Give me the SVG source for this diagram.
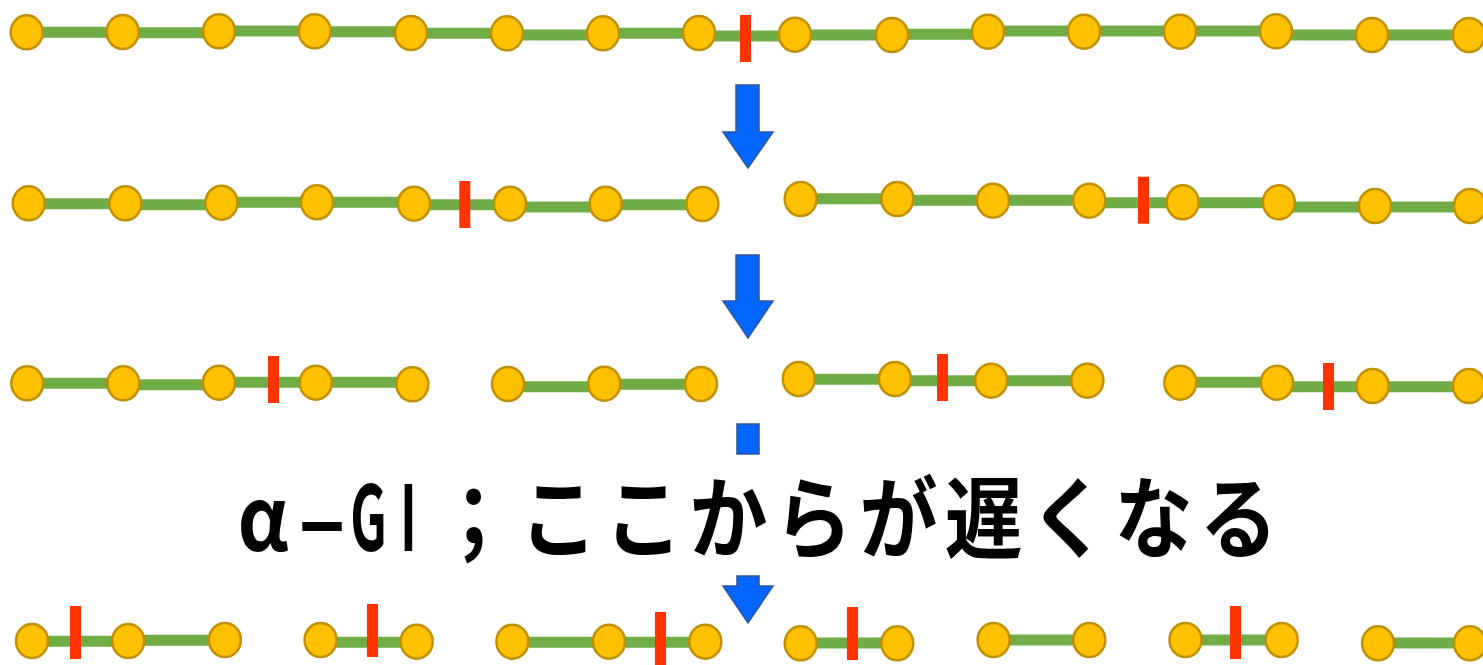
<svg xmlns="http://www.w3.org/2000/svg" width="1483" height="665" viewBox="0 0 1483 665">
<style>
.n{fill:#FFC000;stroke:#BF9000;stroke-width:2.5}
.e{stroke:#70AD47;stroke-width:11;fill:none}
.cut{fill:#FF3300}
.arr{fill:#0066FF;stroke:#2F5597;stroke-width:1.5;stroke-linejoin:miter}
.t{font-family:"Noto Sans CJK JP","Noto Sans",sans-serif;font-size:85px;font-weight:700;fill:#000;text-anchor:middle}
</style>
<rect width="1483" height="665" fill="#FFFFFF"/>
<g id="connectors">
<line class="e" x1="26.7" y1="32.3" x2="122.7" y2="32.3"/>
<line class="e" x1="122.7" y1="32.7" x2="219" y2="32.7"/>
<line class="e" x1="219" y1="31" x2="314.7" y2="31"/>
<line class="e" x1="314.7" y1="31.7" x2="411" y2="31.7"/>
<line class="e" x1="411" y1="33.3" x2="507" y2="33.3"/>
<line class="e" x1="507" y1="35" x2="603" y2="35"/>
<line class="e" x1="603" y1="33.3" x2="699" y2="33.3"/>
<line class="e" x1="699" y1="36" x2="795" y2="36"/>
<line class="e" x1="795" y1="35" x2="892" y2="35"/>
<line class="e" x1="892" y1="34.3" x2="988" y2="34.3"/>
<line class="e" x1="988" y1="31" x2="1084" y2="31"/>
<line class="e" x1="1084" y1="31" x2="1180" y2="31"/>
<line class="e" x1="1180" y1="31" x2="1276" y2="31"/>
<line class="e" x1="1276" y1="35" x2="1372" y2="35"/>
<line class="e" x1="1372" y1="35" x2="1469" y2="35"/>
<line class="e" x1="28.7" y1="203.7" x2="125.4" y2="203.7"/>
<line class="e" x1="125.4" y1="204.7" x2="221.5" y2="204.7"/>
<line class="e" x1="221.5" y1="202.3" x2="317" y2="202.3"/>
<line class="e" x1="317" y1="202.3" x2="414" y2="202.3"/>
<line class="e" x1="414" y1="204.7" x2="510" y2="204.7"/>
<line class="e" x1="510" y1="207" x2="605.7" y2="207"/>
<line class="e" x1="605.7" y1="204.7" x2="702.4" y2="204.7"/>
<line class="e" x1="800.7" y1="198.7" x2="897.3" y2="198.7"/>
<line class="e" x1="897.3" y1="200.3" x2="993" y2="200.3"/>
<line class="e" x1="993" y1="200.3" x2="1089.3" y2="200.3"/>
<line class="e" x1="1089.3" y1="202.7" x2="1182.7" y2="202.7"/>
<line class="e" x1="1182.7" y1="202.7" x2="1278.9" y2="202.7"/>
<line class="e" x1="1278.9" y1="207" x2="1375" y2="207"/>
<line class="e" x1="1375" y1="207" x2="1470" y2="207"/>
<line class="e" x1="27.3" y1="383.3" x2="123.4" y2="383.3"/>
<line class="e" x1="123.4" y1="384.7" x2="219" y2="384.7"/>
<line class="e" x1="219" y1="382.3" x2="315.8" y2="382.3"/>
<line class="e" x1="315.8" y1="382.3" x2="412.4" y2="382.3"/>
<line class="e" x1="508" y1="386.7" x2="604.3" y2="386.7"/>
<line class="e" x1="604.3" y1="384.3" x2="701" y2="384.3"/>
<line class="e" x1="798.8" y1="379.3" x2="895" y2="379.3"/>
<line class="e" x1="895" y1="380.7" x2="991.2" y2="380.7"/>
<line class="e" x1="991.2" y1="380.7" x2="1087.4" y2="380.7"/>
<line class="e" x1="1180.3" y1="382.3" x2="1277" y2="382.3"/>
<line class="e" x1="1277" y1="386.7" x2="1372.7" y2="386.7"/>
<line class="e" x1="1372.7" y1="386.7" x2="1469" y2="386.7"/>
<line class="e" x1="32" y1="641.3" x2="128.2" y2="641.3"/>
<line class="e" x1="128.2" y1="640.3" x2="224.9" y2="640.3"/>
<line class="e" x1="320.6" y1="642.3" x2="416.7" y2="642.3"/>
<line class="e" x1="512.4" y1="642.3" x2="609" y2="642.3"/>
<line class="e" x1="609" y1="642.3" x2="705.3" y2="642.3"/>
<line class="e" x1="800.7" y1="643" x2="897.3" y2="643"/>
<line class="e" x1="993.6" y1="640" x2="1089.3" y2="640"/>
<line class="e" x1="1185.5" y1="640" x2="1281.7" y2="640"/>
<line class="e" x1="1378" y1="643" x2="1470" y2="643"/>
</g>
<g id="nodes">
<g id="r1"><ellipse class="n" cx="26.7" cy="32.3" rx="16" ry="17"/><ellipse class="n" cx="122.7" cy="32" rx="16" ry="17"/><ellipse class="n" cx="219" cy="31.3" rx="16" ry="17"/><ellipse class="n" cx="314.7" cy="31.3" rx="16" ry="17"/><ellipse class="n" cx="411" cy="33" rx="16" ry="17"/><ellipse class="n" cx="507" cy="33.3" rx="16" ry="17"/><ellipse class="n" cx="603" cy="33.3" rx="16" ry="17"/><ellipse class="n" cx="699" cy="33" rx="16" ry="17"/><ellipse class="n" cx="795" cy="34.7" rx="16" ry="17"/><ellipse class="n" cx="892" cy="35" rx="16" ry="17"/><ellipse class="n" cx="988" cy="31.7" rx="16" ry="17"/><ellipse class="n" cx="1084" cy="31.7" rx="16" ry="17"/><ellipse class="n" cx="1180" cy="31.7" rx="16" ry="17"/><ellipse class="n" cx="1276" cy="31.3" rx="16" ry="17"/><ellipse class="n" cx="1372" cy="35" rx="16" ry="17"/><ellipse class="n" cx="1469" cy="35" rx="16" ry="17"/></g>
<g id="r2"><ellipse class="n" cx="28.7" cy="203.3" rx="16" ry="17"/><ellipse class="n" cx="125.4" cy="203.3" rx="16" ry="17"/><ellipse class="n" cx="221.5" cy="202.7" rx="16" ry="17"/><ellipse class="n" cx="317" cy="202.3" rx="16" ry="17"/><ellipse class="n" cx="414" cy="203.7" rx="16" ry="17"/><ellipse class="n" cx="510" cy="203.7" rx="16" ry="17"/><ellipse class="n" cx="605.7" cy="203.7" rx="16" ry="17"/><ellipse class="n" cx="702.4" cy="204" rx="16" ry="17"/><ellipse class="n" cx="800.7" cy="199" rx="16" ry="17"/><ellipse class="n" cx="897.3" cy="199" rx="16" ry="17"/><ellipse class="n" cx="993" cy="200.7" rx="16" ry="17"/><ellipse class="n" cx="1089.3" cy="200.7" rx="16" ry="17"/><ellipse class="n" cx="1182.7" cy="202.3" rx="16" ry="17"/><ellipse class="n" cx="1278.9" cy="202.3" rx="16" ry="17"/><ellipse class="n" cx="1375" cy="206" rx="16" ry="17"/><ellipse class="n" cx="1470" cy="206" rx="16" ry="17"/></g>
<g id="r3"><ellipse class="n" cx="27.3" cy="383.3" rx="16" ry="17"/><ellipse class="n" cx="123.4" cy="383.3" rx="16" ry="17"/><ellipse class="n" cx="219" cy="382.7" rx="16" ry="17"/><ellipse class="n" cx="315.8" cy="382.7" rx="16" ry="17"/><ellipse class="n" cx="412.4" cy="384.3" rx="16" ry="17"/><ellipse class="n" cx="508" cy="384" rx="16" ry="17"/><ellipse class="n" cx="604.3" cy="383.7" rx="16" ry="17"/><ellipse class="n" cx="701" cy="384" rx="16" ry="17"/><ellipse class="n" cx="798.8" cy="379" rx="16" ry="17"/><ellipse class="n" cx="895" cy="379" rx="16" ry="17"/><ellipse class="n" cx="991.2" cy="380.7" rx="16" ry="17"/><ellipse class="n" cx="1087.4" cy="380.7" rx="16" ry="17"/><ellipse class="n" cx="1180.3" cy="382.7" rx="16" ry="17"/><ellipse class="n" cx="1277" cy="382.7" rx="16" ry="17"/><ellipse class="n" cx="1372.7" cy="386" rx="16" ry="17"/><ellipse class="n" cx="1469" cy="386" rx="16" ry="17"/></g>
<g id="r4"><ellipse class="n" cx="32" cy="641" rx="16" ry="17"/><ellipse class="n" cx="128.2" cy="641" rx="16" ry="17"/><ellipse class="n" cx="224.9" cy="640" rx="16" ry="17"/><ellipse class="n" cx="320.6" cy="640" rx="16" ry="17"/><ellipse class="n" cx="416.7" cy="641.7" rx="16" ry="17"/><ellipse class="n" cx="512.4" cy="641.7" rx="16" ry="17"/><ellipse class="n" cx="609" cy="641.7" rx="16" ry="17"/><ellipse class="n" cx="705.3" cy="641.7" rx="16" ry="17"/><ellipse class="n" cx="800.7" cy="643.3" rx="16" ry="17"/><ellipse class="n" cx="897.3" cy="643.3" rx="16" ry="17"/><ellipse class="n" cx="993.6" cy="640" rx="16" ry="17"/><ellipse class="n" cx="1089.3" cy="640" rx="16" ry="17"/><ellipse class="n" cx="1185.5" cy="640" rx="16" ry="17"/><ellipse class="n" cx="1281.7" cy="640" rx="16" ry="17"/><ellipse class="n" cx="1378" cy="643.3" rx="16" ry="17"/><ellipse class="n" cx="1470" cy="643.3" rx="16" ry="17"/></g>
</g>
<g id="cuts">
<rect class="cut" x="740" y="15" width="11" height="47"/>
<rect class="cut" x="459.3" y="181" width="11" height="47"/>
<rect class="cut" x="1138" y="176.7" width="11" height="47"/>
<rect class="cut" x="268" y="356" width="11" height="47"/>
<rect class="cut" x="937" y="354" width="11" height="47"/>
<rect class="cut" x="1323" y="363" width="11" height="47"/>
<rect class="cut" x="70" y="606" width="11" height="53"/>
<rect class="cut" x="367" y="604" width="11" height="53"/>
<rect class="cut" x="655" y="612" width="11" height="53"/>
<rect class="cut" x="847" y="607" width="11" height="53"/>
<rect class="cut" x="1230" y="606" width="11" height="53"/>
</g>
<g id="arrows">
<polygon class="arr" points="736,85 759,85 759,132 773,132 748,168 723,132 736,132"/>
<polygon class="arr" points="736,255 759,255 759,301 773,301 748,338 723,301 736,301"/>
<path class="arr" d="M737,424 H759 V454 H737 Z M737,576 H759 V586 H773 L748,623 L723,586 H737 Z"/>
</g>
<g id="label">
<text class="t" transform="translate(263,551) scale(0.9,1.04)">α</text>
<text class="t" transform="translate(322,551) scale(1.7,1)">-</text>
<text class="t" transform="translate(368.5,551) scale(0.6,1.06)">G</text>
<text class="t" transform="translate(408.5,551) scale(0.6,1.06)">I</text>
<text class="t" transform="translate(0,551) scale(0.92,1.04)"><tspan x="514.7">；</tspan><tspan x="607.1">こ</tspan><tspan x="699.5">こ</tspan><tspan x="791.8">か</tspan><tspan x="884.2">ら</tspan><tspan x="976.6">が</tspan><tspan x="1069">遅</tspan><tspan x="1161.4">く</tspan><tspan x="1253.8">な</tspan><tspan x="1346.2">る</tspan></text>
</g>
</svg>
